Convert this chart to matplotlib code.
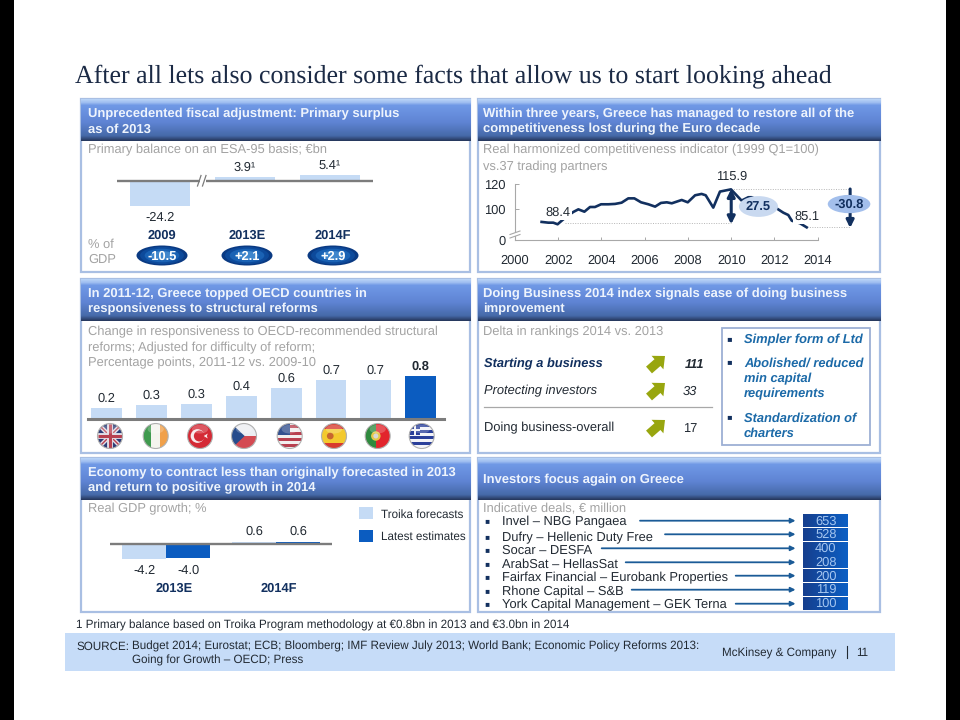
import numpy as np
import matplotlib
matplotlib.use("Agg")
import matplotlib.pyplot as plt
from matplotlib.patches import Rectangle, Ellipse, Circle, Polygon, FancyArrow
from matplotlib.lines import Line2D
from matplotlib.colors import LinearSegmentedColormap

# ---------- data ----------
balance_years = ["2009", "2013E", "2014F"]
balance_values = [-24.2, 3.9, 5.4]
balance_gdp = ["-10.5", "+2.1", "+2.9"]

comp_years = [2001.23, 2001.54, 2001.77, 2001.97, 2002.16, 2002.4, 2002.70, 2002.93, 2003.21, 2003.47,
              2003.70, 2003.98, 2004.32, 2004.63, 2004.93, 2005.24, 2005.52, 2005.83, 2006.17, 2006.48,
              2006.75, 2007.02, 2007.25, 2007.71, 2007.99, 2008.33, 2008.63, 2008.82, 2009.17, 2009.48,
              2009.99, 2010.48, 2010.79, 2010.95, 2011.5, 2012.10, 2012.41, 2012.64, 2012.80, 2013.18, 2013.49]
comp_values = [89.5, 88.9, 88.9, 87.6, 90.5, 94.0, 97.6, 99.7, 97.8, 101.6,
               101.6, 103.8, 103.8, 104.1, 105.1, 108.6, 108.6, 105.4, 103.8, 101.9,
               104.9, 105.4, 104.6, 107.3, 105.4, 111.1, 112.2, 111.1, 101.1, 114.1,
               115.9, 106.8, 109.5, 109.5, 105.0, 100.5, 97.0, 95.1, 90.5, 88.4, 85.1]
comp_xticks = [2000, 2002, 2004, 2006, 2008, 2010, 2012, 2014]

oecd_countries = ["UK", "Ireland", "Turkey", "Czech", "USA", "Spain", "Portugal", "Greece"]
oecd_values = [0.216, 0.265, 0.278, 0.43, 0.57, 0.73, 0.735, 0.80]

business_items = ["Starting a business", "Protecting investors", "Doing business-overall"]
business_deltas = ["111", "33", "17"]

gdp_groups = ["2013E", "2014F"]
gdp_troika = [-4.2, 0.6]
gdp_latest = [-4.0, 0.6]

deal_names = ["Invel – NBG Pangaea", "Dufry – Hellenic Duty Free", "Socar – DESFA", "ArabSat – HellasSat",
              "Fairfax Financial – Eurobank Properties", "Rhone Capital – S&B",
              "York Capital Management – GEK Terna"]
deal_values = [653, 528, 400, 208, 200, 119, 100]

# ---------- styles ----------
plt.rcParams["font.family"] = ["Liberation Sans", "DejaVu Sans"]
plt.rcParams["text.hinting"] = "none"
plt.rcParams["text.hinting_factor"] = 8
W, H = 960, 720
FS = 9.3
SMALL = 8.42
GRAY = "#a3a3a3"
DARK = "#222a33"
NAVY = "#12305f"
LIGHT = "#c5dbf5"
BLUE = "#0b5cc0"
AXIS = "#7c7c7c"

fig = plt.figure(figsize=(W / 100, H / 100), dpi=100, facecolor="white")
page = fig.add_axes([0, 0, 1, 1], zorder=0)
page.set_axis_off()


def inset(x0, y0, x1, y1):
    a = fig.add_axes([x0 / W, 1 - y1 / H, (x1 - x0) / W, (y1 - y0) / H], zorder=2)
    a.patch.set_alpha(0)
    return a


def T(x, y, s, size=FS, color=DARK, **kw):
    kw.setdefault("va", "center")
    return page.text(x, y + 1.3, s, fontsize=size, color=color, **kw)


def gradient(a, extent, stops, horizontal=False, z=1):
    cmap = LinearSegmentedColormap.from_list("g", stops)
    arr = np.linspace(0, 1, 64)
    arr = arr[None, :] if horizontal else arr[:, None]
    return a.imshow(arr, extent=extent, cmap=cmap, aspect="auto", zorder=z, origin="upper")


# black side bands
page.add_patch(Rectangle((0, 0), 14, H, fc="black", ec="none"))
page.add_patch(Rectangle((946, 0), 14, H, fc="black", ec="none"))

# title
T(75, 74.5, "After all lets also consider some facts that allow us to start looking ahead",
  size=18.6, color="#1b2a45", family="Liberation Serif")

# panels
HDR = [(0, "#b9d4f7"), (0.08, "#9dbcf0"), (0.14, "#7099e6"), (0.55, "#5f84d4"), (0.88, "#466aa9"), (1, "#26375c")]


def panel(x0, x1, y0, y1, y2, lines, pad=7.5):
    page.add_patch(Rectangle((x0, y0), x1 - x0, y2 - y0, fc="white", ec="#a9bfe3", lw=1.6, zorder=1))
    gradient(page, (x0, x1, y1, y0), HDR, z=2)
    n = len(lines)
    ys = [(y0 + y1) / 2] if n == 1 else [y0 + 13.5, y0 + 29]
    for s, y in zip(lines, ys):
        T(x0 + pad, y, s, size=9.35, color="#eef4fd", fontweight="bold", zorder=3)


LX0, LX1, RX0, RX1 = 80.5, 470, 477.5, 880
panel(LX0, LX1, 99, 141, 272, ["Unprecedented fiscal adjustment: Primary surplus", "as of 2013"])
panel(RX0, RX1, 99, 141, 272, ["Within three years, Greece has managed to restore all of the",
                               "competitiveness lost during the Euro decade"], pad=5.5)
panel(LX0, LX1, 279, 321, 453, ["In 2011-12, Greece topped OECD countries in", "responsiveness to structural reforms"])
panel(RX0, RX1, 279, 321, 453, ["Doing Business 2014 index signals ease of doing business", "improvement"], pad=5.5)
panel(LX0, LX1, 458, 500, 612, ["Economy to contract less than originally forecasted in 2013",
                                "and return to positive growth in 2014"])
panel(RX0, RX1, 458, 500, 612, ["Investors focus again on Greece"], pad=5.5)

for x, y, s in [(88, 149, "Primary balance on an ESA-95 basis; €bn"),
                (483, 149, "Real harmonized competitiveness indicator (1999 Q1=100)"),
                (483, 165.5, "vs.37 trading partners"),
                (88, 331, "Change in responsiveness to OECD-recommended structural"),
                (88, 346.5, "reforms; Adjusted for difficulty of reform;"),
                (88, 361.5, "Percentage points, 2011-12 vs. 2009-10"),
                (483, 331, "Delta in rankings 2014 vs. 2013"),
                (88, 508, "Real GDP growth; %"),
                (483, 508, "Indicative deals, € million"),
                (88, 243, "% of"), (88, 258, "GDP")]:
    T(x, y, s, color=GRAY, zorder=3)

# ---------- chart 1: primary balance ----------
ax1 = inset(117, 150, 373, 215)
ax1.set_xlim(-0.506, 2.506)
ax1.set_ylim(-33.0, 29.5)
ax1.set_axis_off()
pos1 = np.arange(len(balance_values))
ax1.bar(pos1, balance_values, width=0.7, color=LIGHT, zorder=1)
ax1.axhline(0, color=AXIS, lw=1.7, zorder=2)
ax1.add_patch(Rectangle((199.5, 176), 6, 9, fc="white", ec="none", transform=page.transData, zorder=3, clip_on=False))
for dx in (0, 5):
    ax1.add_line(Line2D([197.5 + dx, 201 + dx], [186, 175.5], color=AXIS, lw=0.9,
                        transform=page.transData, zorder=4, clip_on=False))
for p, v in zip(pos1, balance_values):
    s = f"{v:.1f}" + ("¹" if v > 0 else "")
    off = -12 if v < 0 else 9
    ax1.annotate(s, (p, v), xytext=(0, off * 0.72), textcoords="offset points", ha="center", va="center",
                 fontsize=FS, color=DARK, annotation_clip=False)

oval_stops = ["#0a3a83", "#0d4a9b", "#1a62b4", "#3f86cc"]
for cx, yr, g in zip([162, 247, 333], balance_years, balance_gdp):
    T(cx, 234.5, yr, color=NAVY, fontweight="bold", ha="center", zorder=3)
    for i, (k, c) in enumerate(zip([1.0, 0.86, 0.68, 0.45], oval_stops)):
        page.add_patch(Ellipse((cx, 255.5), 51 * k, 20 * k, fc=c, ec="none", zorder=3 + i * 0.01))
    T(cx, 255, g, color="white", fontweight="bold", ha="center", zorder=4)

# ---------- chart 2: competitiveness ----------
ax2 = inset(515, 184.3, 817.7, 240)
ax2.set_xlim(2000, 2014)
BREAK = 74.85  # the axis is cut: this position stands for 0
ax2.set_ylim(BREAK, 120)
ax2.plot(comp_years, comp_values, color=NAVY, lw=1.9, zorder=2, clip_on=False)
for s in ("top", "right"):
    ax2.spines[s].set_visible(False)
for s in ("left", "bottom"):
    ax2.spines[s].set_color("#a8a8a8")
    ax2.spines[s].set_linewidth(0.8)
ax2.set_xticks(comp_xticks)
ax2.set_xticklabels([str(y) for y in comp_xticks], fontsize=FS, color=DARK)
ax2.set_yticks([BREAK, 100, 120])
ax2.set_yticklabels(["0", "100", "120"], fontsize=FS, color=DARK)
ax2.tick_params(axis="x", direction="in", length=2, width=0.7, color="#a8a8a8", pad=10.5)
ax2.tick_params(axis="y", direction="in", length=3, width=0.7, color="#a8a8a8", pad=7)
ax2.add_patch(Rectangle((510, 232.5), 10, 3.5, fc="white", ec="none", transform=page.transData, zorder=3, clip_on=False))
for dy in (0, 3.5):
    ax2.add_line(Line2D([510, 520], [234.5 + dy, 231 + dy], color="#a8a8a8", lw=0.8,
                        transform=page.transData, zorder=4, clip_on=False))
# reference levels
dot = dict(color="#b5b5b5", lw=0.7, ls=(0, (1, 1.5)), zorder=1, clip_on=False)
ax2.plot([2002.3, 2010], [88.4, 88.4], **dot)
ax2.plot([2010, 2015.5], [115.9, 115.9], **dot)
ax2.plot([2013.5, 2015.5], [85.1, 85.1], **dot)
ax2.annotate("", xy=(2010, 87.6), xytext=(2010, 116.2), annotation_clip=False, zorder=5,
             arrowprops=dict(arrowstyle="<|-|>", color=NAVY, lw=2.2, shrinkA=0, shrinkB=0, mutation_scale=11))
ax2.annotate("", xy=(2015.5, 84.6), xytext=(2015.5, 116.2), annotation_clip=False, zorder=5,
             arrowprops=dict(arrowstyle="-|>", color=NAVY, lw=2.2, shrinkA=0, shrinkB=0, mutation_scale=11))
for lab, (x, v), off in [("88.4", (2002, 88.4), 10.6), ("115.9", (2010, 115.9), 12.7), ("85.1", (2013.5, 85.1), 10.5)]:
    ax2.annotate(lab, (x, v), xytext=(0, off * 0.72), textcoords="offset points", ha="center", va="center",
                 fontsize=FS, color=DARK, zorder=4, annotation_clip=False,
                 bbox=dict(fc="white", ec="none", pad=0.8))
ax2.text(2011.26, 102, "27.5", fontsize=FS, fontweight="bold", color=NAVY, ha="center", va="center", zorder=6,
         bbox=dict(boxstyle="ellipse,pad=0.1", fc="#c9d9f0", ec="none"), clip_on=False)
ax2.text(2015.45, 104, "-30.8", fontsize=FS, fontweight="bold", color=NAVY, ha="center", va="center", zorder=6,
         bbox=dict(boxstyle="ellipse,pad=0.03", fc="#a3bfec", ec="none"), clip_on=False)

# ---------- chart 3: OECD responsiveness ----------
ax3 = inset(88, 370, 444, 419.3)
ax3.set_xlim(-0.42, 7.52)
ax3.set_ylim(0, 0.912)
ax3.set_axis_off()
pos3 = np.arange(len(oecd_values))
ax3.bar(pos3, oecd_values, width=0.685,
        color=[BLUE if c == "Greece" else LIGHT for c in oecd_countries], zorder=1)
ax3.axhline(0, color=AXIS, lw=2.2, zorder=2, clip_on=False)
for p, v, c in zip(pos3, oecd_values, oecd_countries):
    ax3.annotate(f"{v:.1f}", (p, v), xytext=(0, 9.5 * 0.72), textcoords="offset points", ha="center", va="center",
                 fontsize=FS, color=DARK, fontweight="bold" if c == "Greece" else "normal", annotation_clip=False)


def flag(cx, cy, r, draw):
    clip = Circle((cx, cy), r, transform=page.transData)
    z = 3

    def rect(u0, v0, u1, v1, c):
        a = Rectangle((cx + u0 * r, cy + v0 * r), (u1 - u0) * r, (v1 - v0) * r, fc=c, ec="none", zorder=z)
        page.add_patch(a)
        a.set_clip_path(clip)

    def poly(pts, c):
        a = Polygon([(cx + u * r, cy + v * r) for u, v in pts], fc=c, ec="none", zorder=z)
        page.add_patch(a)
        a.set_clip_path(clip)

    def disc(u, v, k, c):
        a = Circle((cx + u * r, cy + v * r), k * r, fc=c, ec="none", zorder=z)
        page.add_patch(a)
        a.set_clip_path(clip)

    def stroke(pts, c, lw):
        a = Line2D([cx + u * r for u, v in pts], [cy + v * r for u, v in pts], color=c, lw=lw, zorder=z,
                   solid_capstyle="butt")
        page.add_line(a)
        a.set_clip_path(clip)

    draw(rect, poly, disc, stroke)
    page.add_patch(Circle((cx, cy), r, fc="none", ec="#b0b0b0", lw=0.8, zorder=3.2))
    page.add_patch(Ellipse((cx, cy - 0.55 * r), 1.3 * r, 0.7 * r, fc="white", ec="none", alpha=0.22, zorder=3.1))


def uk(rect, poly, disc, stroke):
    rect(-1, -1, 1, 1, "#2c3d78")
    stroke([(-1, -1), (1, 1)], "#e4e0e8", 3)
    stroke([(-1, 1), (1, -1)], "#e4e0e8", 3)
    stroke([(-1, -1), (1, 1)], "#b8404f", 1)
    stroke([(-1, 1), (1, -1)], "#b8404f", 1)
    stroke([(-1, 0), (1, 0)], "#e4e0e8", 4.2)
    stroke([(0, -1), (0, 1)], "#e4e0e8", 4.2)
    stroke([(-1, 0), (1, 0)], "#b8404f", 2.2)
    stroke([(0, -1), (0, 1)], "#b8404f", 2.2)


def ireland(rect, poly, disc, stroke):
    rect(-1, -1, -0.35, 1, "#3f9a4e")
    rect(-0.35, -1, 0.35, 1, "#f4f4ee")
    rect(0.35, -1, 1, 1, "#f0a04a")


def turkey(rect, poly, disc, stroke):
    rect(-1, -1, 1, 1, "#d42a35")
    disc(-0.2, 0, 0.55, "#f7e9ea")
    disc(-0.05, 0, 0.44, "#d42a35")
    poly([(0.3, 0), (0.62, -0.2), (0.55, 0), (0.62, 0.2)], "#f7e9ea")


def czech(rect, poly, disc, stroke):
    rect(-1, -1, 1, 0, "#eceef2")
    rect(-1, 0, 1, 1, "#d44a52")
    poly([(-1, -1), (0.05, 0), (-1, 1)], "#274c8c")


def usa(rect, poly, disc, stroke):
    rect(-1, -1, 1, 1, "#f2eeee")
    for i in range(4):
        rect(-1, -0.86 + i * 0.5, 1, -0.62 + i * 0.5, "#b8404f")
    rect(-1, -1, 0.05, -0.05, "#33508f")


def spain(rect, poly, disc, stroke):
    rect(-1, -1, 1, 1, "#d73a2e")
    rect(-1, -0.55, 1, 0.55, "#f3c92e")
    disc(-0.3, 0, 0.27, "#c8662e")


def portugal(rect, poly, disc, stroke):
    rect(-1, -1, 1, 1, "#e2242c")
    rect(-1, -1, -0.15, 1, "#2f8a3e")
    disc(-0.15, 0, 0.38, "#e6c84a")
    disc(-0.15, 0, 0.2, "#d8d8d8")


def greece(rect, poly, disc, stroke):
    rect(-1, -1, 1, 1, "#f2f3f8")
    for i in range(4):
        rect(-1, -0.95 + i * 0.48, 1, -0.71 + i * 0.48, "#2a3f9a")
    rect(-1, -1, -0.1, -0.05, "#2a3f9a")
    rect(-0.62, -1, -0.46, -0.05, "#f2f3f8")
    rect(-1, -0.6, -0.1, -0.44, "#f2f3f8")


flag_draw = {"UK": uk, "Ireland": ireland, "Turkey": turkey, "Czech": czech, "USA": usa,
             "Spain": spain, "Portugal": portugal, "Greece": greece}
for cx, c in zip([110, 155.7, 200, 244, 289.7, 334, 377.7, 421.7], oecd_countries):
    flag(cx, 436, 12.5, flag_draw[c])

# ---------- panel 4: doing business ----------
rows4 = [363, 390, 427]
styles4 = [dict(fontweight="bold", fontstyle="italic", color=NAVY),
           dict(fontstyle="italic"), dict()]
xval4 = [685, 683, 683]
for y, name, d, st, xv in zip(rows4, business_items, business_deltas, styles4, xval4):
    T(484, y, name, zorder=3, **st)
    T(xv, y, d, zorder=3, fontstyle="italic" if st else "normal",
      fontweight=st.get("fontweight", "normal"))
    page.add_patch(FancyArrow(649, y + 7, 16, -14, width=9, head_width=18, head_length=10,
                              length_includes_head=True, fc="#98a60f", ec="none", zorder=3))
page.plot([484, 712], [407, 407], color="#a8a8a8", lw=0.9, zorder=3)
page.add_patch(Rectangle((722.3, 327.7), 147.7, 117.3, fc="white", ec="#9db0d4", lw=1.3, zorder=3))
BL = "#1c6aa8"
for yb, lines in [(339, ["Simpler form of Ltd"]),
                  (362, ["Abolished/ reduced", "min capital", "requirements"]),
                  (417, ["Standardization of", "charters"])]:
    T(729, yb - 1, "▪", size=6, color=NAVY, ha="center", zorder=4, family="DejaVu Sans")
    for i, s in enumerate(lines):
        T(744, yb + i * 15.5, s, color=BL, fontweight="bold", fontstyle="italic", zorder=4)

# ---------- chart 5: GDP growth ----------
ax5 = inset(110, 530, 332, 565)
ax5.set_xlim(-0.512, 1.506)
ax5.set_ylim(-6.0, 4.0)
ax5.set_axis_off()
bw = 0.4
pos5 = np.arange(len(gdp_groups))
b_t = ax5.bar(pos5 - bw / 2, gdp_troika, width=bw, color=LIGHT, label="Troika forecasts", zorder=1)
b_l = ax5.bar(pos5 + bw / 2, gdp_latest, width=bw, color=BLUE, label="Latest estimates", zorder=1)
ax5.axhline(0, color=AXIS, lw=1.7, zorder=2)
for bars, vals in ((b_t, gdp_troika), (b_l, gdp_latest)):
    for r, v in zip(bars, vals):
        off = -27 if v < 0 else 12
        ax5.annotate(f"{v:.1f}", (r.get_x() + r.get_width() / 2, 0), xytext=(0, off * 0.72),
                     textcoords="offset points", ha="center", va="center", fontsize=FS, color=DARK,
                     annotation_clip=False)
for cx, g in zip([174, 279], gdp_groups):
    T(cx, 587.5, g, color=NAVY, fontweight="bold", ha="center", zorder=3)
fig.legend(handles=[b_t, b_l], loc="upper left", bbox_to_anchor=(355 / W, 1 - 504 / H), frameon=False,
           fontsize=8.4, labelcolor=DARK, handlelength=1.2, handleheight=1.2, handletextpad=0.72,
           labelspacing=0.85, borderaxespad=0, borderpad=0.3)

# ---------- panel 6: deals ----------
ax6 = inset(803.3, 514, 848.3, 610)
ax6.set_xlim(0, 1)
ax6.set_ylim(len(deal_values) - 0.5, -0.5)
ax6.set_axis_off()
pos6 = np.arange(len(deal_values))
bars6 = ax6.barh(pos6, [1] * len(deal_values), height=0.93, color=BLUE, zorder=1)
for r in bars6:
    x, y, w, h = r.get_x(), r.get_y(), r.get_width(), r.get_height()
    gradient(ax6, (x, x + w, y + h, y), ["#163f8e", "#0c5fc4"], horizontal=True, z=1.5)
ax6.set_xlim(0, 1)
ax6.set_ylim(len(deal_values) - 0.5, -0.5)
for p, v in zip(pos6, deal_values):
    ax6.text(0.5, p + 0.03, str(v), ha="center", va="center", fontsize=FS, color="#a4c6f0", zorder=3)

row6 = [520.7, 534.3, 548.3, 562.3, 575.7, 589.7, 603.7]
text6 = [520.7, 536.5, 549.7, 563.3, 577, 590.3, 603.7]
start6 = [640, 665, 601.7, 625.7, 735.7, 631.7, 735.7]
for yr, yt, xs, name in zip(row6, text6, start6, deal_names):
    T(486.7, yt - 1, "▪", size=5.5, color=NAVY, ha="center", zorder=3, family="DejaVu Sans")
    T(501.7, yt, name, zorder=3)
    page.annotate("", xy=(795.5, yr), xytext=(xs, yr), zorder=3,
                  arrowprops=dict(arrowstyle="-|>", color="#1b5b97", lw=1.3, shrinkA=0, shrinkB=0, mutation_scale=7))

# ---------- footer ----------
T(76, 624.5, "1 Primary balance based on Troika Program methodology at €0.8bn in 2013 and €3.0bn in 2014", size=SMALL)
page.add_patch(Rectangle((64.7, 632.7), 830.3, 38.6, fc="#c6dcf8", ec="none", zorder=1))
T(76, 645, "SOURCE:", size=SMALL, zorder=3)
T(132.5, 645, "Budget 2014; Eurostat; ECB; Bloomberg; IMF Review July 2013; World Bank; Economic Policy Reforms 2013:",
  size=SMALL, zorder=3)
T(132.5, 659.5, "Going for Growth – OECD; Press", size=SMALL, zorder=3)
T(721.5, 652, "McKinsey & Company", size=SMALL, zorder=3)
page.plot([846.5, 846.5], [646, 658], color=DARK, lw=0.8, zorder=3)
T(856.5, 652, "11", size=SMALL, zorder=3)

page.set_xlim(0, W)
page.set_ylim(H, 0)
fig.savefig("out.png", dpi=100, facecolor="white")
